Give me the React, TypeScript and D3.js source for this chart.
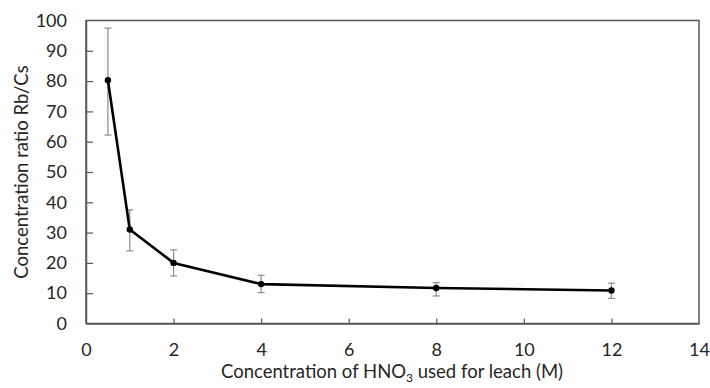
import * as d3 from 'd3';
import { useEffect, useRef } from 'react';

const concentrations = [0.5, 1, 2, 4, 8, 12];
const ratios = [80.3, 31, 20, 13, 11.7, 10.9];
const errLow = [62.2, 24, 15.7, 10.2, 9.1, 8.3];
const errHigh = [97.5, 37.5, 24.3, 15.9, 13.5, 13.3];
const xTicks = [0, 2, 4, 6, 8, 10, 12, 14];
const yTicks = [0, 10, 20, 30, 40, 50, 60, 70, 80, 90, 100];

export default function App() {
  const ref = useRef<SVGSVGElement | null>(null);

  useEffect(() => {
    const svg = d3.select(ref.current);
    svg.selectAll('*').remove();
    const width = 710;
    const height = 388;
    const margin = { top: 20.5, right: 11, bottom: 64.5, left: 86 };
    const innerW = width - margin.left - margin.right;
    const innerH = height - margin.top - margin.bottom;
    const font = 'Lato, "Open Sans", sans-serif';
    const axisColor = '#595959';
    const textColor = '#262626';

    const x = d3.scaleLinear().domain([0, 14]).range([0, innerW]);
    const y = d3.scaleLinear().domain([0, 100]).range([innerH, 0]);

    const g = svg.append('g').attr('transform', `translate(${margin.left},${margin.top})`);

    // frame
    g.append('rect')
      .attr('x', 0).attr('y', 0).attr('width', innerW).attr('height', innerH)
      .attr('fill', 'none').attr('stroke', axisColor).attr('stroke-width', 1.5);

    // x axis, ticks point inward
    const xAxis = g.append('g').attr('transform', `translate(0,${innerH})`)
      .call(d3.axisBottom(x).tickValues(xTicks).tickSizeInner(-5).tickSizeOuter(0).tickPadding(20));
    xAxis.select('.domain').attr('stroke', axisColor).attr('stroke-width', 1.5);
    xAxis.selectAll('.tick line').attr('stroke', axisColor).attr('stroke-width', 1.2);
    xAxis.selectAll('.tick').filter((d: any) => d === 0 || d === 14).select('line').remove();
    xAxis.selectAll('text').attr('font-family', font).attr('font-size', 18).attr('fill', textColor);

    const yAxis = g.append('g')
      .call(d3.axisLeft(y).tickValues(yTicks).tickSizeInner(-7).tickSizeOuter(0).tickPadding(19));
    yAxis.select('.domain').attr('stroke', axisColor).attr('stroke-width', 1.5);
    yAxis.selectAll('.tick line').attr('stroke', axisColor).attr('stroke-width', 1.2);
    yAxis.selectAll('.tick').filter((d: any) => d === 0 || d === 100).select('line').remove();
    yAxis.selectAll('text').attr('font-family', font).attr('font-size', 18).attr('fill', textColor);

    const data = concentrations.map((c, i) => ({ c, v: ratios[i], lo: errLow[i], hi: errHigh[i] }));

    // error bars
    const eb = g.append('g').attr('stroke', '#8c8c8c').attr('stroke-width', 1.2);
    data.forEach((d) => {
      eb.append('line').attr('x1', x(d.c)).attr('x2', x(d.c)).attr('y1', y(d.lo)).attr('y2', y(d.hi));
      eb.append('line').attr('x1', x(d.c) - 3.5).attr('x2', x(d.c) + 3.5).attr('y1', y(d.lo)).attr('y2', y(d.lo));
      eb.append('line').attr('x1', x(d.c) - 3.5).attr('x2', x(d.c) + 3.5).attr('y1', y(d.hi)).attr('y2', y(d.hi));
    });

    const line = d3.line<{ c: number; v: number }>().x((d) => x(d.c)).y((d) => y(d.v));
    g.append('path').datum(data).attr('d', line).attr('fill', 'none')
      .attr('stroke', '#000').attr('stroke-width', 2.6).attr('stroke-linejoin', 'round');

    g.selectAll('circle.pt').data(data).enter().append('circle')
      .attr('cx', (d) => x(d.c)).attr('cy', (d) => y(d.v)).attr('r', 3.2).attr('fill', '#000');

    // axis titles
    const xt = svg.append('text')
      .attr('x', 392).attr('y', 378)
      .attr('text-anchor', 'middle').attr('font-family', font).attr('font-size', 18.5).attr('fill', textColor);
    xt.append('tspan').text('Concentration of HNO');
    xt.append('tspan').text('3').attr('font-size', 12).attr('dy', 4);
    xt.append('tspan').text(' used for leach (M)').attr('dy', -4);

    svg.append('text')
      .attr('transform', `translate(28,172) rotate(-90)`)
      .attr('text-anchor', 'middle').attr('font-family', font).attr('font-size', 18.5).attr('fill', textColor)
      .text('Concentration ratio Rb/Cs');
  }, []);

  return (
    <svg ref={ref} width={710} height={388} style={{ position: 'absolute', left: 0, top: 0, background: '#fff' }} />
  );
}
